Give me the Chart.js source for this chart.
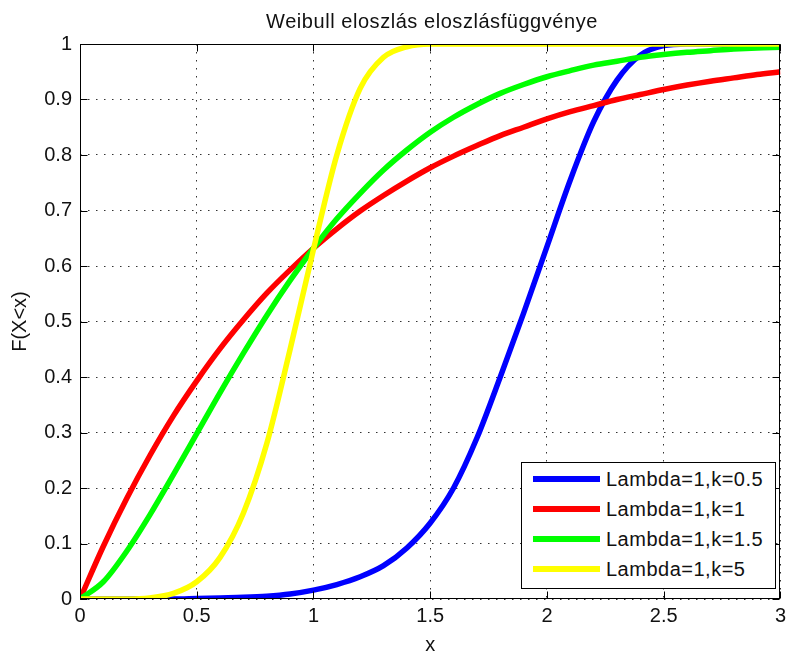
<!DOCTYPE html>
<html>
<head>
<meta charset="utf-8">
<script src="https://cdn.jsdelivr.net/npm/chart.js@4/dist/chart.umd.min.js"></script>
<style>
html,body{margin:0;padding:0;background:#fff;}
#wrap{position:relative;width:791px;height:657px;overflow:hidden;}
#c{position:absolute;left:0;top:0;}
#title{position:absolute;left:182px;width:500px;top:9px;text-align:center;font:20px "Liberation Sans",Arial,sans-serif;line-height:24px;letter-spacing:0.55px;color:#111;white-space:nowrap;}
#legend{position:absolute;left:521px;top:462px;width:255px;height:127px;box-sizing:border-box;border:1px solid #000;background:#fff;padding-top:1px;}
.row{position:relative;height:30px;}
.row .ln{position:absolute;left:11px;width:67px;height:6px;top:12px;}
.row .tx{position:absolute;left:84px;top:0;font:20px "Liberation Sans",Arial,sans-serif;line-height:30px;letter-spacing:0.5px;color:#111;white-space:nowrap;}
</style>
</head>
<body>
<div id="wrap">
<canvas id="c" width="791" height="657"></canvas>
<div id="title"></div>
<div id="legend"></div>
</div>
<script>
// ---- data ----
const chartTitle = 'Weibull eloszlás eloszlásfüggvénye';
const xAxisLabel = 'x';
const yAxisLabel = 'F(X<x)';
const xTickValues = [0, 0.5, 1, 1.5, 2, 2.5, 3];
const yTickValues = [0, 0.1, 0.2, 0.3, 0.4, 0.5, 0.6, 0.7, 0.8, 0.9, 1];
const seriesNames = ['Lambda=1,k=0.5', 'Lambda=1,k=1', 'Lambda=1,k=1.5', 'Lambda=1,k=5'];
const seriesColors = ['#0000ff', '#ff0000', '#00ff00', '#ffff00'];
const xValues = [0, 0.1, 0.2, 0.3, 0.4, 0.5, 0.6, 0.7, 0.8, 0.9, 1.0,
                 1.1, 1.2, 1.3, 1.4, 1.5, 1.6, 1.7, 1.8, 1.9, 2.0,
                 2.1, 2.2, 2.3, 2.4, 2.5, 2.6, 2.7, 2.8, 2.9, 3.0];
const blueValues = [0, 0, 0, 0, 0, 0.001, 0.002, 0.003, 0.005, 0.009, 0.016,
                    0.026, 0.040, 0.060, 0.092, 0.137, 0.200, 0.290, 0.400, 0.515, 0.635,
                    0.755, 0.860, 0.935, 0.980, 0.997, 1, 1, 1, 1, 1];
const redValues = [0, 0.095, 0.181, 0.259, 0.330, 0.393, 0.451, 0.503, 0.551, 0.593, 0.632,
                   0.667, 0.699, 0.727, 0.753, 0.777, 0.798, 0.817, 0.835, 0.850, 0.865,
                   0.878, 0.889, 0.900, 0.909, 0.918, 0.926, 0.933, 0.939, 0.945, 0.950];
const greenValues = [0, 0.031, 0.086, 0.152, 0.224, 0.298, 0.372, 0.443, 0.511, 0.574, 0.632,
                     0.685, 0.731, 0.773, 0.809, 0.841, 0.868, 0.891, 0.911, 0.927, 0.941,
                     0.952, 0.962, 0.969, 0.976, 0.981, 0.985, 0.988, 0.991, 0.993, 0.994];
const yellowValues = [0, 0, 0, 0.002, 0.01, 0.031, 0.075, 0.155, 0.28, 0.45, 0.63,
                      0.80, 0.92, 0.976, 0.995, 1, 1, 1, 1, 1, 1,
                      1, 1, 1, 1, 1, 1, 1, 1, 1, 1];
const seriesValues = [blueValues, redValues, greenValues, yellowValues];

// ---- title & legend (real text) ----
document.getElementById('title').textContent = chartTitle;
const legendEl = document.getElementById('legend');
seriesNames.forEach((name, i) => {
  const row = document.createElement('div'); row.className = 'row';
  const ln = document.createElement('div'); ln.className = 'ln'; ln.style.background = seriesColors[i];
  const tx = document.createElement('div'); tx.className = 'tx'; tx.textContent = name;
  row.appendChild(ln); row.appendChild(tx); legendEl.appendChild(row);
});

const FONT = '"Liberation Sans", Arial, sans-serif';

const datasets = seriesNames.map((name, i) => ({
  label: name,
  data: xValues.map((x, j) => ({x: x, y: seriesValues[i][j]})),
  borderColor: seriesColors[i],
  backgroundColor: seriesColors[i],
  borderWidth: 5.5,
  pointRadius: 0,
  fill: false,
  cubicInterpolationMode: 'monotone',
  order: seriesNames.length - i
}));

// Box around axes + inward tick marks (MATLAB style)
const boxPlugin = {
  id: 'matlabBox',
  afterDatasetsDraw(chart) {
    const {ctx, chartArea: a, scales} = chart;
    const L = Math.round(a.left) + 0.5, R = Math.round(a.right) - 0.5;
    const T = Math.round(a.top) + 0.5, B = Math.round(a.bottom) - 0.5;
    const tl = 7;
    ctx.save();
    ctx.strokeStyle = '#000';
    ctx.lineWidth = 1;
    ctx.beginPath();
    xTickValues.forEach(v => {
      const px = Math.round(scales.x.getPixelForValue(v)) + 0.5;
      ctx.moveTo(px, B); ctx.lineTo(px, B - tl);
      ctx.moveTo(px, T); ctx.lineTo(px, T + tl);
    });
    yTickValues.forEach(v => {
      const py = Math.round(scales.y.getPixelForValue(v)) + 0.5;
      ctx.moveTo(L, py); ctx.lineTo(L + tl, py);
      ctx.moveTo(R, py); ctx.lineTo(R - tl, py);
    });
    ctx.stroke();
    ctx.strokeRect(L, T, R - L, B - T);
    ctx.restore();
  }
};

new Chart(document.getElementById('c'), {
  type: 'line',
  data: {datasets: datasets},
  plugins: [boxPlugin],
  options: {
    responsive: false,
    animation: false,
    layout: {padding: {top: 44, right: 6, left: 0, bottom: 0}},
    plugins: {legend: {display: false}, title: {display: false}, tooltip: {enabled: false}},
    scales: {
      x: {
        type: 'linear', min: 0, max: 3,
        afterBuildTicks: s => { s.ticks = xTickValues.map(v => ({value: v})); },
        afterFit: s => { s.height = 58; },
        ticks: {font: {family: FONT, size: 20}, color: '#111', padding: 5, maxRotation: 0, autoSkip: false,
                callback: v => String(v)},
        grid: {drawTicks: false, color: 'rgba(0,0,0,0.8)', lineWidth: 1},
        border: {display: false, dash: [1.5, 6.5]},
        title: {display: true, text: xAxisLabel, font: {family: FONT, size: 20}, color: '#111', padding: {top: 0, bottom: 0}}
      },
      y: {
        type: 'linear', min: 0, max: 1,
        afterBuildTicks: s => { s.ticks = yTickValues.map(v => ({value: v})); },
        afterFit: s => { s.width = 80; },
        ticks: {font: {family: FONT, size: 20}, color: '#111', padding: 8, autoSkip: false,
                callback: v => String(v)},
        grid: {drawTicks: false, color: 'rgba(0,0,0,0.8)', lineWidth: 1},
        border: {display: false, dash: [1.5, 6.5]},
        title: {display: true, text: yAxisLabel, font: {family: FONT, size: 20}, color: '#111', padding: {top: 8, bottom: 0}}
      }
    }
  }
});
</script>
</body>
</html>
